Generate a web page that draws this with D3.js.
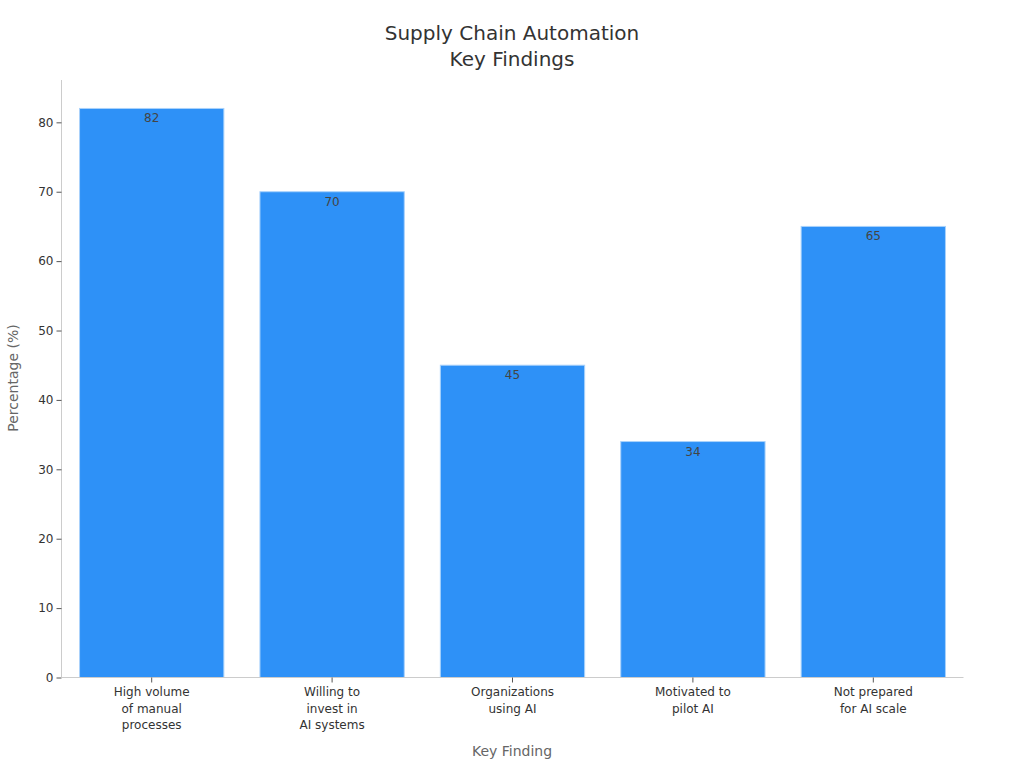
<!DOCTYPE html>
<html><head><meta charset="utf-8">
<script src="https://cdn.jsdelivr.net/npm/d3@7"></script>
<style>body{margin:0;background:#fff;font-family:"DejaVu Sans",sans-serif;}</style>
</head><body><svg id="c" width="1024" height="768"></svg>
<script>
const categories = [["High volume","of manual","processes"],["Willing to","invest in","AI systems"],["Organizations","using AI"],["Motivated to","pilot AI"],["Not prepared","for AI scale"]];
const values = [82, 70, 45, 34, 65];
const yTicks = [0,10,20,30,40,50,60,70,80];
const titleLines = ["Supply Chain Automation","Key Findings"];

const svg = d3.select("#c");
const m = {left:61.5, right:963.5, top:80, bottom:677.5};
const keys = categories.map(c=>c.join(" "));
const x = d3.scaleBand().domain(keys).range([m.left,m.right]).paddingInner(0.2).paddingOuter(0.1);
const y = d3.scaleLinear().domain([0, 86.1]).range([m.bottom, m.top]);

svg.selectAll("rect.bar").data(values).join("rect").attr("class","bar")
 .attr("x",(d,i)=>x(keys[i])).attr("width",x.bandwidth())
 .attr("y",d=>y(d)).attr("height",d=>y(0)-y(d))
 .attr("fill","#2e91f7").attr("stroke","#a9d2fb").attr("stroke-width",1);

svg.selectAll("text.val").data(values).join("text").attr("class","val")
 .attr("x",(d,i)=>x(keys[i])+x.bandwidth()/2).attr("y",d=>y(d)+14)
 .attr("text-anchor","middle").attr("font-size",12).attr("fill","#444").text(d=>d);

// y axis
const ya = svg.append("g").attr("transform",`translate(${m.left},0)`)
 .call(d3.axisLeft(y).tickValues(yTicks).tickSize(5).tickPadding(3));
ya.select(".domain").attr("stroke","#ccc").attr("d",`M0,${m.top}V${m.bottom}`);
ya.selectAll(".tick line").attr("stroke","#555");
ya.selectAll(".tick text").attr("font-size",12).attr("fill","#333").attr("font-family","DejaVu Sans");

// x axis
const xa = svg.append("g").attr("transform",`translate(0,${m.bottom})`)
 .call(d3.axisBottom(x).tickSize(5).tickFormat(""));
xa.select(".domain").attr("stroke","#ccc").attr("d",`M${m.left},0H${m.right}`);
xa.selectAll(".tick line").attr("stroke","#555");
categories.forEach((lines,i)=>{
  const cx = x(keys[i])+x.bandwidth()/2;
  const t = svg.append("text").attr("x",cx).attr("y",696)
    .attr("text-anchor","middle").attr("font-size",12).attr("fill","#333");
  lines.forEach((l,j)=>t.append("tspan").attr("x",cx).attr("y",696+j*16.5).text(l));
});

svg.append("text").attr("x",512).attr("y",756).attr("text-anchor","middle")
 .attr("font-size",14).attr("fill","#666").text("Key Finding");
svg.append("text").attr("transform","translate(18,378) rotate(-90)").attr("text-anchor","middle")
 .attr("font-size",14).attr("fill","#666").text("Percentage (%)");
titleLines.forEach((l,i)=>svg.append("text").attr("x",512).attr("y",40+i*26)
 .attr("text-anchor","middle").attr("font-size",20).attr("fill","#333").text(l));
</script></body></html>
